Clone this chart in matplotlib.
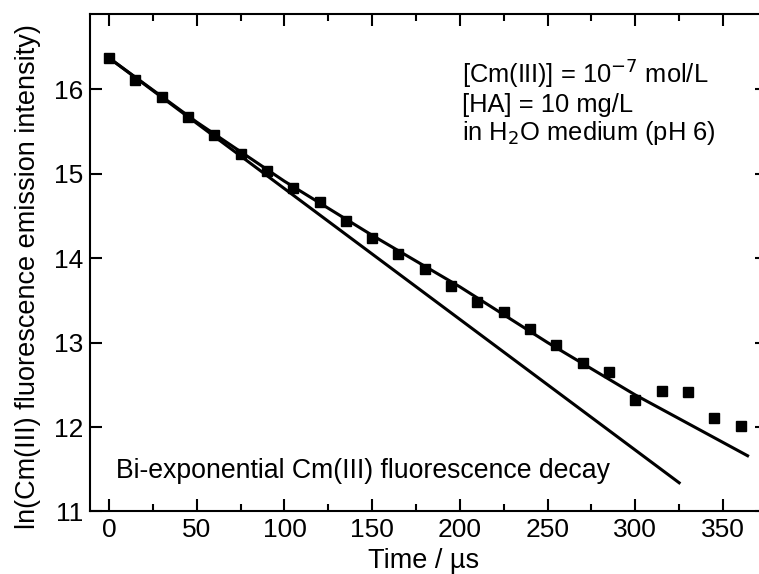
import matplotlib
matplotlib.use("Agg")
import matplotlib.pyplot as plt

plt.rcParams['font.family'] = ['Liberation Sans', 'DejaVu Sans']

# measured decay points
time_us = [0, 15, 30, 45, 60, 75, 90, 105, 120, 135, 150, 165, 180,
           195, 210, 225, 240, 255, 270, 285, 300, 315, 330, 345, 360]
ln_int = [16.37, 16.11, 15.91, 15.67, 15.46, 15.23, 15.03, 14.83, 14.66,
          14.44, 14.24, 14.05, 13.87, 13.67, 13.48, 13.36, 13.16, 12.97,
          12.76, 12.65, 12.32, 12.43, 12.41, 12.11, 12.01]

# bi-exponential fit
fit_t = [0, 50, 100, 150, 200, 250, 300, 364]
fit_y = [16.37, 15.61, 14.91, 14.27, 13.66, 13.00, 12.38, 11.66]

# fast component only
fast_t = [0, 325]
fast_y = [16.37, 11.34]

fig = plt.figure(figsize=(7.59, 5.74), dpi=100)
ax = fig.add_axes([0.1186, 0.1089, 0.892, 0.8667])

ax.plot(fit_t, fit_y, color='black', lw=2.2)
ax.plot(fast_t, fast_y, color='black', lw=2.2)
ax.plot(time_us, ln_int, 's', color='black', ms=7, mec='black')

ax.set_xlim(-10.83, 375.1)
ax.set_ylim(11, 16.89)
ax.set_xticks(range(0, 351, 50))
ax.set_xticks(range(25, 376, 50), minor=True)
ax.set_yticks(range(11, 17))

for s in ax.spines.values():
    s.set_linewidth(1.5)
ax.tick_params(which='both', direction='in', top=True, right=True, width=1.5,
               labelsize=19)
ax.tick_params(which='major', length=8.5, pad=5)
ax.tick_params(which='minor', length=5)
ax.tick_params(axis='y', which='minor', left=False, right=False)

ax.set_xlabel('Time / µs', fontsize=19.5, va='baseline')
ax.xaxis.set_label_coords(0.4926, -0.1136)
ax.set_ylabel('ln(Cm(III) fluorescence emission intensity)', fontsize=19.5,
              va='center')
ax.yaxis.set_label_coords(-0.0916, 0.473)

ax.text(0.5495, 0.861, '[Cm(III)] = 10$^{-7}$ mol/L', transform=ax.transAxes,
        fontsize=18.4, va='baseline', ha='left')
ax.text(0.5495, 0.803, '[HA] = 10 mg/L', transform=ax.transAxes,
        fontsize=18.4, va='baseline', ha='left')
ax.text(0.5495, 0.747, 'in H$_2$O medium (pH 6)', transform=ax.transAxes,
        fontsize=18.4, va='baseline', ha='left')
ax.text(0.0384, 0.067, 'Bi-exponential Cm(III) fluorescence decay',
        transform=ax.transAxes, fontsize=19.2, va='baseline', ha='left')

fig.savefig('out.png', dpi=100)
